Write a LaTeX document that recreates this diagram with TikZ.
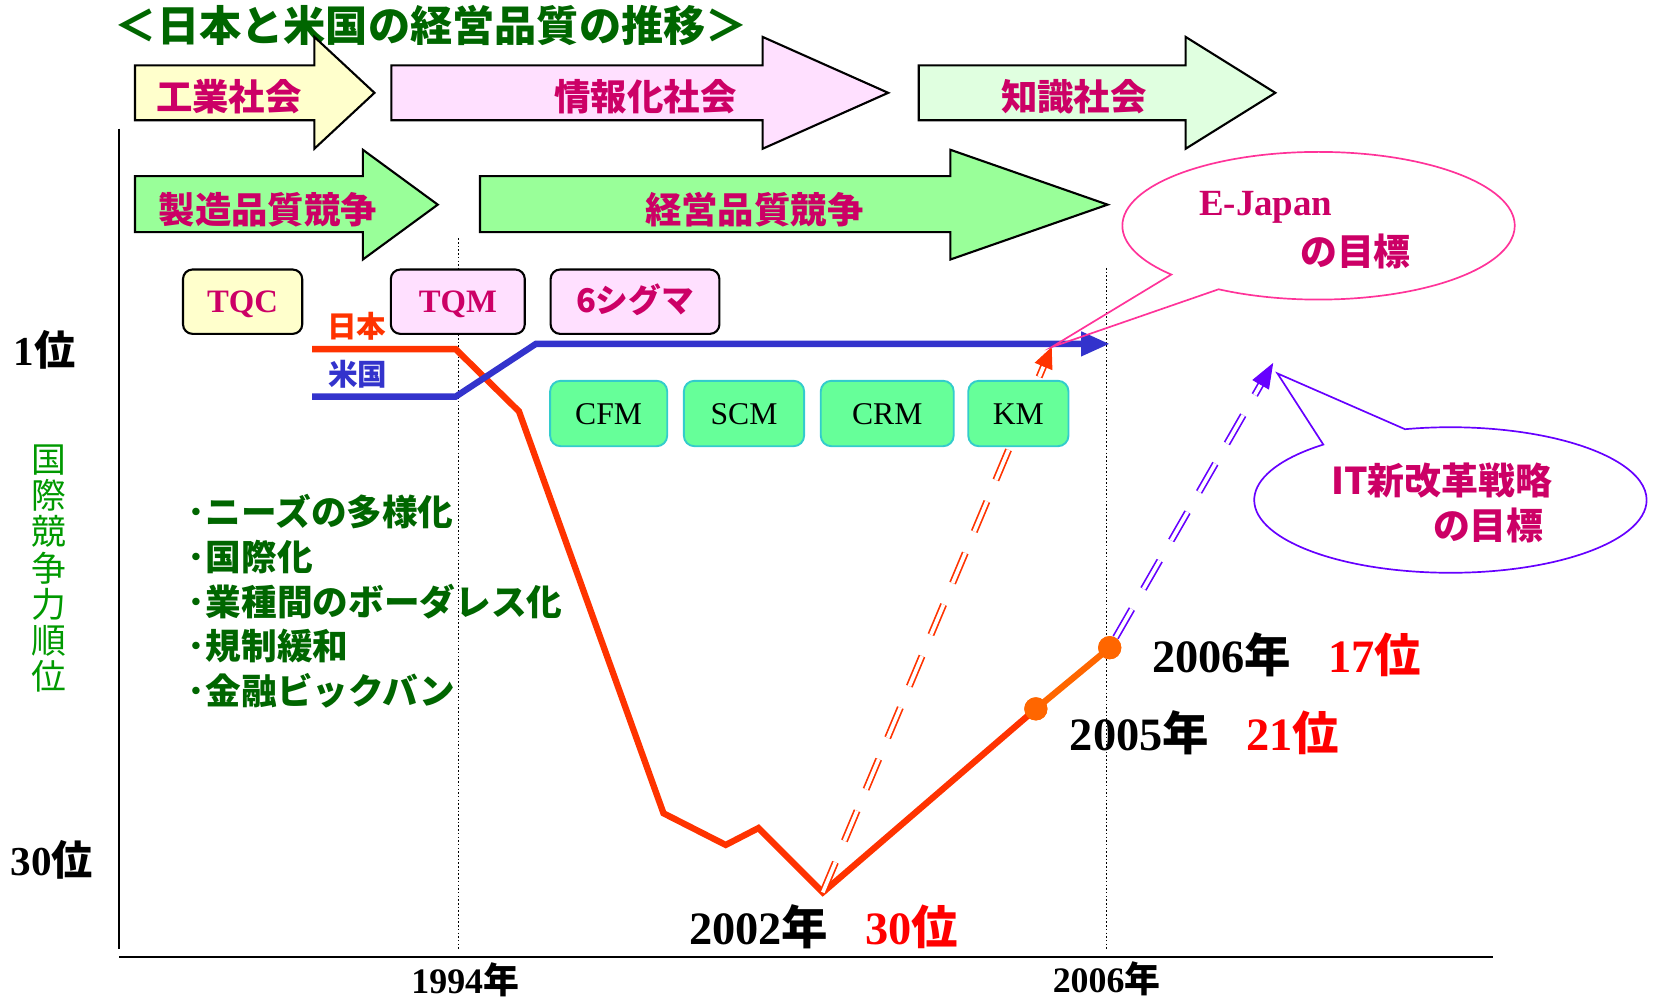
\documentclass[tikz,border=0pt]{standalone}
\usepackage{fontspec}
\setmainfont{Liberation Serif}
\newfontfamily\jpfont{Noto Sans CJK JP}
\usetikzlibrary{calc}
\usetikzlibrary{positioning}
\usetikzlibrary{arrows.meta}
\usetikzlibrary{shapes.callouts}
\definecolor{titlegreen}{RGB}{0,102,0}
\definecolor{axisgreen}{RGB}{0,153,0}
\definecolor{labelmagenta}{RGB}{204,0,102}
\definecolor{paleyellow}{RGB}{255,255,204}
\definecolor{palepink}{RGB}{255,224,255}
\definecolor{palegreen}{RGB}{224,255,224}
\definecolor{brightgreen}{RGB}{153,255,153}
\definecolor{mintgreen}{RGB}{102,255,153}
\definecolor{tealedge}{RGB}{51,204,204}
\definecolor{jpred}{RGB}{255,51,0}
\definecolor{jporange}{RGB}{255,102,0}
\definecolor{usblue}{RGB}{51,51,204}
\definecolor{rankred}{RGB}{255,0,0}
\definecolor{calloutpink}{RGB}{255,51,153}
\definecolor{calloutviolet}{RGB}{102,0,255}
\tikzstyle{eraarrow} = [draw, line width=2pt, line join=miter]
\tikzstyle{eralabel} = [font=\jpfont\bfseries\fontsize{34.5}{40}\selectfont, text=labelmagenta, inner sep=0pt]
\tikzstyle{methodbox} = [draw, rounded corners=9pt, line width=2pt, minimum height=61pt, text height=20.5pt, text depth=0pt, font=\bfseries\fontsize{31}{36}\selectfont, text=labelmagenta]
\tikzstyle{toolbox} = [draw=tealedge, fill=mintgreen, rounded corners=10pt, line width=1.8pt, minimum height=62pt, text height=20pt, text depth=0pt, font=\fontsize{30}{36}\selectfont]
\tikzstyle{yearline} = [line width=1.2pt, dash pattern=on 1.5pt off 2pt]
\tikzstyle{jpline} = [line width=6pt, line join=miter, draw=jpred]
\tikzstyle{usline} = [line width=6pt, line join=miter, draw=usblue, -{Triangle[length=27pt,width=22pt]}]
\tikzstyle{jpdot} = [circle, fill=jporange, minimum size=22pt, inner sep=0pt]
\tikzstyle{goaldash} = [line width=1.6pt, double=white, double distance=3.5pt, dash pattern=on 31pt off 22pt]
\tikzstyle{goalcallout} = [ellipse callout, line width=1.6pt, minimum width=372pt, minimum height=140pt]
\tikzstyle{goaltext} = [font=\bfseries\fontsize{35}{40}\selectfont, text=labelmagenta, inner sep=0pt]
\tikzstyle{ranklabel} = [font=\bfseries\fontsize{44}{50}\selectfont, inner sep=0pt, anchor=west]
\tikzstyle{axislabel} = [font=\bfseries\fontsize{34}{40}\selectfont, inner sep=0pt]

\begin{document}
\begin{tikzpicture}[x=1pt, y=-1pt]
\useasboundingbox (0,0) rectangle (1568,948);

% title
\node[font=\jpfont\bfseries\fontsize{40}{46}\selectfont, text=titlegreen] (title) at (409,24) {＜日本と米国の経営品質の推移＞};

% year guides and axes
\draw[yearline] (435,226) -- (435,900);
\draw[yearline] (1049,254) -- (1049,900);
\draw[line width=1.5pt] (113,122) -- (113,900);
\draw[line width=2.2pt] (113,907) -- (1415,907);

% era arrows
\draw[eraarrow, fill=paleyellow] (128,62) -- (298,62) -- (298,35) -- (355,88) -- (298,141) -- (298,114) -- (128,114) -- cycle;
\draw[eraarrow, fill=palepink] (371,62) -- (723,62) -- (723,35) -- (842,88) -- (723,141) -- (723,114) -- (371,114) -- cycle;
\draw[eraarrow, fill=palegreen] (871,62) -- (1124,62) -- (1124,35) -- (1209,88) -- (1124,141) -- (1124,114) -- (871,114) -- cycle;
\draw[eraarrow, fill=brightgreen] (128,167) -- (344,167) -- (344,142) -- (415,194) -- (344,246) -- (344,220) -- (128,220) -- cycle;
\draw[eraarrow, fill=brightgreen] (455,167) -- (901,167) -- (901,142) -- (1050,194) -- (901,246) -- (901,220) -- (455,220) -- cycle;
\node[eralabel] (industrial) at (217,92) {工業社会};
\node[eralabel] (information) at (612,92) {情報化社会};
\node[eralabel] (knowledge) at (1018,92) {知識社会};
\node[eralabel] (mfgquality) at (254,199) {製造品質競争};
\node[eralabel] (mgmtquality) at (715,199) {経営品質競争};

% ranking lines
\coordinate (jp02) at (780,846);
\coordinate (us06) at (1052,326);
\coordinate (ejgoal) at (997,329);
\coordinate (itgoal) at (1207,344);
\coordinate (itpoint) at (1211,354);
\node[jpdot] (j05) at (982,672) {};
\node[jpdot] (j06) at (1052,614) {};
\draw[jpline] (296,331) -- (432,331) -- (492,390) -- (629,771) -- (688,801) -- (719,785) -- (jp02) -- (j05.center);
\draw[jpline, draw=jporange] (j05.center) -- (j06.center);
\node[jpdot] at (j05) {};
\node[jpdot] at (j06) {};
\draw[usline] (296,376) -- (432,376) -- (508,326) -- (us06);
\node[font=\jpfont\bfseries\fontsize{28}{32}\selectfont, text=jpred] (jplabel) at (338,309) {日本};
\node[font=\jpfont\bfseries\fontsize{28}{32}\selectfont, text=usblue] (uslabel) at (339,355) {米国};

% goals
\draw[goaldash, draw=jpred, shorten >=19pt] (jp02) -- (ejgoal);
\draw[-{Triangle[length=20pt,width=18pt]}, jpred, line width=1pt] ($(ejgoal)!20pt!(jp02)$) -- (ejgoal);
\draw[goaldash, draw=calloutviolet, shorten >=23pt] (j06) -- (itgoal);
\draw[-{Triangle[length=24pt,width=18pt]}, calloutviolet, line width=1pt] ($(itgoal)!24pt!(j06)$) -- (itgoal);
\node[goalcallout, draw=calloutpink, callout absolute pointer={(ejgoal)}, callout pointer arc=18] (ejcall) at (1250,214) {};
\node[goalcallout, draw=calloutviolet, minimum height=138pt, callout absolute pointer={(itpoint)}, callout pointer arc=27] (itcall) at (1375,474) {};
\node[goaltext] (ejname) at (1200,197) {E-Japan};
\node[goaltext] (ejtarget) at (1285,238) {\jpfont の目標};
\node[goaltext] (itname) at (1367,456) {\jpfont IT新改革戦略};
\node[goaltext] (ittarget) at (1411,498) {\jpfont の目標};

% methods
\node[methodbox, fill=paleyellow, minimum width=113pt] (tqc) at (230,286) {TQC};
\node[methodbox, fill=palepink, minimum width=127pt] (tqm) at (434,286) {TQM};
\node[methodbox, fill=palepink, minimum width=160pt] (sixsigma) at (602,286) {{\jpfont 6シグマ}};
\node[toolbox, minimum width=111pt] (cfm) at (577,392) {CFM};
\node[toolbox, minimum width=114pt, right=14pt of cfm] (scm) {SCM};
\node[toolbox, minimum width=126pt, right=14pt of scm] (crm) {CRM};
\node[toolbox, minimum width=95pt, right=12pt of crm] (km) {KM};

% axis labels
\node[font=\bfseries\fontsize{39}{44}\selectfont] (rankone) at (42,332) {1{\jpfont 位}};
\node[font=\bfseries\fontsize{39}{44}\selectfont] (rankthirty) at (49,815) {30{\jpfont 位}};
\node[font=\jpfont\fontsize{33}{34.3}\selectfont, text=axisgreen, align=center, inner sep=0pt] (ylabel) at (46,539) {国\\際\\競\\争\\力\\順\\位};
\node[axislabel] (y1994) at (441,929) {1994{\jpfont 年}};
\node[axislabel] (y2006) at (1049,928) {2006{\jpfont 年}};

% factors
\node[font=\jpfont\bfseries\fontsize{33.8}{42.3}\selectfont, text=titlegreen, align=left, anchor=west, inner sep=0pt] (factors) at (178,570) {･ニーズの多様化\\･国際化\\･業種間のボーダレス化\\･規制緩和\\･金融ビックバン};

% rankings
\node[ranklabel] (rank02) at (653,879) {2002{\jpfont 年}\hspace{35pt}\textcolor{rankred}{30{\jpfont 位}}};
\node[ranklabel] (rank05) at (1014,695) {2005{\jpfont 年}\hspace{35pt}\textcolor{rankred}{21{\jpfont 位}}};
\node[ranklabel] (rank06) at (1092,621) {2006{\jpfont 年}\hspace{35pt}\textcolor{rankred}{17{\jpfont 位}}};
\end{tikzpicture}
\end{document}
